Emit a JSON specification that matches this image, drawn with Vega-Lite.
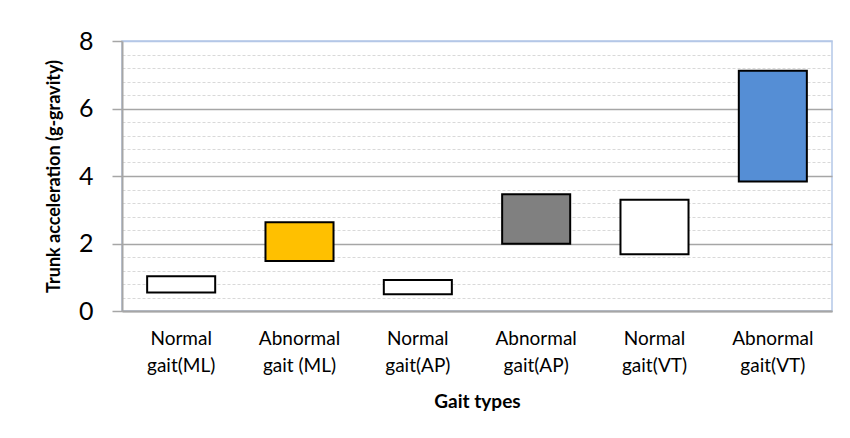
{
  "$schema": "https://vega.github.io/schema/vega-lite/v6.json",
  "autosize": {"type": "none"},
  "padding": {"left": 122, "top": 41, "right": 18, "bottom": 127},
  "width": 710,
  "height": 270,
  "background": "white",
  "config": {
    "font": "Lato",
    "view": {"stroke": "#b4c7e7", "strokeWidth": 1.5}
  },
  "data": {
    "values": [
      {"gait": "Normal gait(ML)", "low": 0.55, "high": 1.03},
      {"gait": "Abnormal gait (ML)", "low": 1.48, "high": 2.63},
      {"gait": "Normal gait(AP)", "low": 0.50, "high": 0.92},
      {"gait": "Abnormal gait(AP)", "low": 1.99, "high": 3.46},
      {"gait": "Normal gait(VT)", "low": 1.68, "high": 3.30},
      {"gait": "Abnormal gait(VT)", "low": 3.84, "high": 7.12}
    ]
  },
  "encoding": {
    "x": {
      "field": "gait",
      "type": "nominal",
      "sort": null,
      "scale": {"paddingInner": 0.425, "paddingOuter": 0.2125},
      "axis": {
        "title": "Gait types",
        "titleFont": "Lato",
        "titleFontSize": 19,
        "titleFontWeight": "bold",
        "titleColor": "#000000",
        "titlePadding": 17,
        "labelAngle": 0,
        "labelFontSize": 19,
        "labelColor": "#000000",
        "labelLineHeight": 27,
        "labelPadding": 18,
        "labelBaseline": "top",
        "labelExpr": "[slice(datum.label, 0, indexof(datum.label, ' ')), slice(datum.label, indexof(datum.label, ' ') + 1)]",
        "ticks": false,
        "domainColor": "#a6a6a6",
        "domainWidth": 2,
        "grid": false
      }
    }
  },
  "layer": [
    {
      "mark": {"type": "bar", "opacity": 0},
      "encoding": {
        "y": {
          "field": "low",
          "type": "quantitative",
          "scale": {"domain": [0, 8], "nice": false},
          "axis": {
            "values": [0.4, 0.8, 1.2, 1.6, 2.4, 2.8, 3.2, 3.6, 4.4, 4.8, 5.2, 5.6, 6.4, 6.8, 7.2, 7.6],
            "grid": true,
            "gridColor": "#d9d9d9",
            "gridDash": [3, 2],
            "gridWidth": 1,
            "labels": false,
            "ticks": false,
            "domain": false,
            "title": null,
            "orient": "left"
          }
        },
        "y2": {"field": "high"}
      }
    },
    {
      "mark": {"type": "bar", "stroke": "#000000", "strokeWidth": 2},
      "encoding": {
        "y": {
          "field": "low",
          "type": "quantitative",
          "scale": {"domain": [0, 8], "nice": false},
          "axis": {
            "values": [0, 2, 4, 6, 8],
            "grid": true,
            "gridColor": {"condition": {"test": "datum.value == 8", "value": "#b4c7e7"}, "value": "#a6a6a6"},
            "gridWidth": 1.5,
            "tickSize": 10,
            "tickColor": "#a6a6a6",
            "tickWidth": 1.5,
            "domainColor": "#a6a6a6",
            "domainWidth": 2,
            "labelFontSize": 25,
            "labelColor": "#000000",
            "labelPadding": 19,
            "title": "Trunk acceleration (g-gravity)",
            "titleFontSize": 18,
            "titleFontWeight": "bold",
            "titleColor": "#000000",
            "titleX": -59,
            "orient": "left"
          }
        },
        "y2": {"field": "high"},
        "color": {
          "field": "gait",
          "type": "nominal",
          "scale": {
            "domain": ["Normal gait(ML)", "Abnormal gait (ML)", "Normal gait(AP)", "Abnormal gait(AP)", "Normal gait(VT)", "Abnormal gait(VT)"],
            "range": ["#ffffff", "#ffc000", "#ffffff", "#808080", "#ffffff", "#558ed5"]
          },
          "legend": null
        }
      }
    }
  ],
  "resolve": {"scale": {"y": "shared"}, "axis": {"y": "independent"}}
}
